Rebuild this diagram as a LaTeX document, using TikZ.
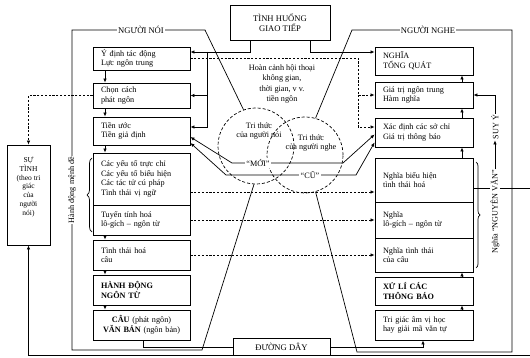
\documentclass[tikz,border=0pt]{standalone}
\usepackage{fontspec}
\setmainfont{Liberation Serif}
\usetikzlibrary{arrows.meta,decorations.pathreplacing,calc}
\begin{document}
\begin{tikzpicture}[x=1pt,y=-1pt,
  font=\fontsize{8.2}{9.6}\selectfont,
  lbox/.style={draw, line width=0.9pt, inner xsep=8pt, inner ysep=0pt, text width=81pt, align=left},
  rbox/.style={draw, line width=0.9pt, inner xsep=8pt, inner ysep=0pt, text width=82pt, align=left},
  fr/.style={line width=0.7pt},
  ln/.style={line width=0.7pt},
  arr/.style={line width=0.7pt, -{Latex[length=4pt,width=3.5pt]}},
  barr/.style={line width=0.7pt, {Latex[length=4pt,width=3.5pt]}-{Latex[length=4pt,width=3.5pt]}},
  darr/.style={line width=0.7pt, dash pattern=on 2.2pt off 1.6pt, -{Latex[length=4pt,width=3.5pt]}},
  knw/.style={circle, draw, line width=0.7pt, dash pattern=on 3pt off 2pt, minimum size=76pt, inner sep=0pt},
  lab/.style={fill=white, inner sep=1.2pt},
  capf/.style={font=\fontsize{8.6}{10.5}\selectfont},
]
\useasboundingbox (0,0) rectangle (530,358);

% coordinates
\coordinate (ax) at (105,0);
\coordinate (ra) at (462,0);

% speaker boxes
\node[lbox, minimum height=23pt] (l1) at (141.5,58.5) {Ý định tác động\\Lực ngôn trung};
\node[lbox, minimum height=25pt] (l2) at (141.5,95.5) {Chọn cách\\phát ngôn};
\node[lbox, minimum height=28pt] (l3) at (141.5,131) {Tiền ước\\Tiền giả định};
\node[lbox, minimum height=52pt] (l4) at (141.5,179) {Các yếu tố trực chỉ\\Các yếu tố biểu hiện\\Các tác tử cú pháp\\Tình thái vị ngữ};
\node[lbox, minimum height=30pt] (l5) at (141.5,220) {Tuyến tính hoá\\lô-gích -- ngôn từ};
\node[lbox, minimum height=30pt] (l6) at (141.5,255) {Tình thái hoá\\câu};
\node[lbox, minimum height=30pt] (l7) at (141.5,290) {\textbf{HÀNH ĐỘNG}\\\textbf{NGÔN TỪ}};
\node[lbox, minimum height=30pt, align=center] (l8) at (141.5,325) {\textbf{CÂU} (phát ngôn)\\\textbf{VĂN BẢN} (ngôn bản)};

% listener boxes
\node[rbox, minimum height=28pt] (r1) at (424,61) {NGHĨA\\TỔNG QUÁT};
\node[rbox, minimum height=26pt] (r2) at (424,95) {Giá trị ngôn trung\\Hàm nghĩa};
\node[rbox, minimum height=29pt] (r3) at (424,132.5) {Xác định các sở chỉ\\Giá trị thông báo};
\node[rbox, minimum height=44pt] (r4) at (424,180) {Nghĩa biểu hiện\\tình thái hoá};
\node[rbox, minimum height=36pt] (r5) at (424,220) {Nghĩa\\lô-gích -- ngôn từ};
\node[rbox, minimum height=34pt] (r6) at (424,255) {Nghĩa tình thái\\của câu};
\node[rbox, minimum height=28pt] (r7) at (424,291) {\textbf{XỬ LÍ CÁC}\\\textbf{THÔNG BÁO}};
\node[rbox, minimum height=30pt] (r8) at (424,325) {Tri giác âm vị học\\hay giải mã văn tự};

% other boxes
\node[draw, line width=0.9pt, minimum width=100pt, minimum height=35pt, align=center, inner sep=0pt, capf] (th) at (280,22.5) {TÌNH HUỐNG\\GIAO TIẾP};
\node[draw, line width=0.9pt, minimum width=43pt, minimum height=100pt, inner sep=0pt] (st) at (28.5,195) {};
\node[align=center, font=\fontsize{7.5}{8.8}\selectfont, inner sep=0pt] (stt) at (28.5,187) {SỰ\\TÌNH\\(theo tri\\giác\\của\\người\\nói)};
\node[draw, line width=0.9pt, minimum width=97pt, minimum height=17pt, inner sep=0pt, capf] (dd) at (281.5,346.5) {ĐƯỜNG DÂY};

% knowledge circles
\node[knw] (k1) at (256,146) {};
\node[knw] (k2) at (305,155) {};
\node[align=center, inner sep=0pt] (k1t) at (259,131) {Tri thức\\của người nói};
\node[align=center, inner sep=0pt] (k2t) at (311,143) {Tri thức\\của người nghe};

% frames
\coordinate (f1) at (205,30);
\coordinate (f2) at (72,30);
\coordinate (f3) at (72,350);
\coordinate (f4) at (202,350);
\draw[fr] (k1.109) -- (f1) -- (f2) -- (f3) -- (f4) -- (k1.267);
\coordinate (g1) at (352,30);
\coordinate (g2) at (512,30);
\coordinate (g3) at (512,352);
\coordinate (g4) at (357,352);
\draw[fr] (k2.74) -- (g1) -- (g2) -- (g3) -- (g4) -- (k2.286);
\node[lab, capf] (nn) at (141,30) {NGƯỜI NÓI};
\node[lab, capf] (ng) at (428,30) {NGƯỜI NGHE};

% situation text
\node[align=center, inner sep=0pt, font=\fontsize{8.2}{10.5}\selectfont] (hc) at (282,84) {Hoàn cảnh hội thoại\\không gian,\\thời gian, v v.\\tiền ngôn};

% speaker internal arrows
\draw[arr] (l1.south -| ax) -- (l2.north -| ax);
\draw[arr] (l2.south -| ax) -- (l3.north -| ax);
\draw[arr] (l3.south -| ax) -- (l4.north -| ax);
\draw[arr] (l5.south -| ax) -- (l6.north -| ax);
\draw[arr] (l6.south -| ax) -- (l7.north -| ax);
\draw[arr] (l7.south -| ax) -- (l8.north -| ax);

% listener internal arrows
\draw[arr] (r8.north -| ra) -- (r7.south -| ra);
\draw[arr] (r7.north -| ra) -- (r6.south -| ra);
\draw[arr] (r4.north -| ra) -- (r3.south -| ra);
\draw[arr] (r3.north -| ra) -- (r2.south -| ra);
\draw[arr] (r2.north -| ra) -- (r1.south -| ra);

% situation connectors
\coordinate (tl) at (250,52);
\coordinate (tv) at (207,52);
\draw[arr] (th.south -| tl) |- (l1.east |- tl);
\draw[arr] (tv) |- (l2.east);
\draw[arr] (tv) |- ($(l3.east)+(0,-4)$);
\coordinate (tr) at (310,52);
\draw[arr] (th.south -| tr) |- (r1.west |- tr);

% dashed connectors
\coordinate (d1) at (358,58);
\coordinate (d3) at (358,127);
\draw[darr] (l1.east |- d1) -- (d1) |- (r2.west);
\draw[darr] (r2.west -| d1) -- (d3) -- (r3.west |- d3);
\coordinate (d2) at (0,192);
\draw[darr] (l4.east |- d2) -- (r4.west |- d2);
\draw[darr] (l5.east) -- (r5.west);
\draw[darr] (l6.east) -- (r6.west);
\draw[darr] (l2.west) -| (st.north);

% new / old
\coordinate (m1) at (232,163);
\coordinate (m2) at (343,163);
\draw[barr] ($(l3.east)+(0,6)$) -- (m1) -- (m2) -- ($(r3.west)+(0,2)$);
\node[lab] (moi) at (258,163) {“MỚI”};
\coordinate (c1) at (226,175);
\coordinate (c2) at (356,175);
\draw[barr] ($(l3.east)+(0,12)$) -- (c1) -- (c2) -- ($(r3.west)+(0,10)$);
\node[lab] (cu) at (310,175) {“CŨ”};

% channel
\coordinate (dl) at (143,347);
\draw[ln] (l8.south -| dl) -- (dl) -- (dd.west |- dl);
\coordinate (dr) at (423,347);
\draw[arr] (dd.east |- dr) -- (dr) -- (r8.south -| dr);

% outer loop
\coordinate (outR) at (530,188);
\coordinate (outB) at (530,355);
\draw[ln] (r4.east |- outR) -- (outR);
\draw[arr] (outB) -| (st.south);

% vertical labels and braces
\node[rotate=90, lab] (hd) at (72,190) {Hành động mệnh đề};
\node[rotate=90, lab, inner sep=0.6pt] (nv) at (495,212) {Nghĩa “NGUYÊN VĂN”};
\node[rotate=90, inner sep=1pt] (suy) at (495,127) {SUY Ý};
\draw[arr] (nv.east) -- (suy.west);
\draw[arr] (suy.east) |- (r2.east);
\draw[ln, decorate, decoration={brace, amplitude=5pt}] (92,232) -- (92,158);
\draw[ln, decorate, decoration={brace, amplitude=4pt}] (476,162) -- (476,268);
\end{tikzpicture}
\end{document}
